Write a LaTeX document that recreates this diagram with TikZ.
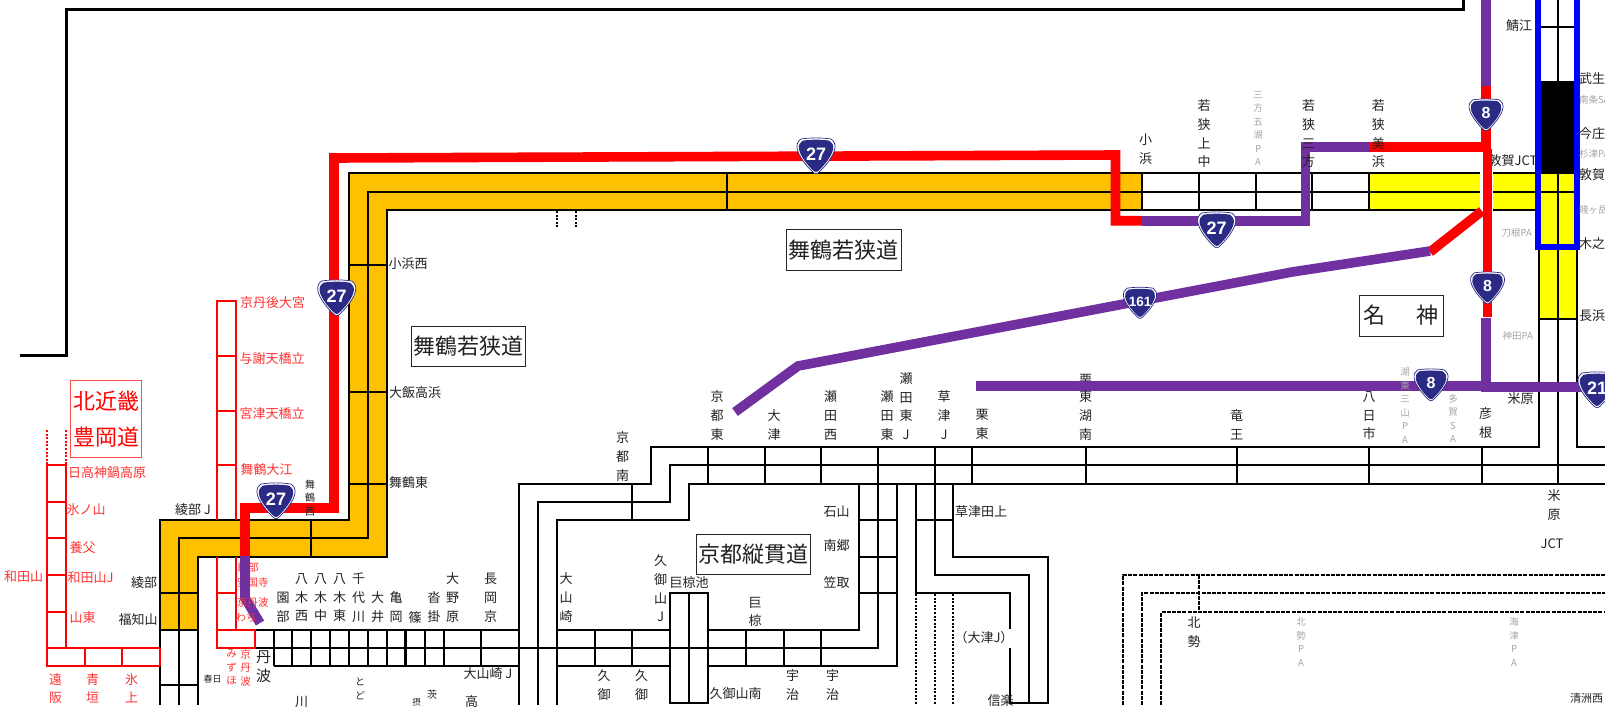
\documentclass[tikz,border=0pt]{standalone}
\usepackage{fontspec}
\setmainfont{Liberation Sans}
\newfontfamily\jp{Noto Sans CJK JP}
\definecolor{orng}{HTML}{FFC000}
\definecolor{yell}{HTML}{FFFF00}
\definecolor{purp}{HTML}{7030A0}
\definecolor{navy}{HTML}{2B2A84}
\definecolor{txt}{HTML}{222222}
\definecolor{gtxt}{HTML}{A6A6A6}
\definecolor{rtxt}{HTML}{FF3333}
\tikzset{
  base/.style={inner sep=0pt,outer sep=0pt,align=center,yshift=-2pt,execute at begin node=\strut,execute at end node=\strut},
  lab/.style={base,text=txt,font=\jp\fontsize{13}{18.7}\selectfont},
  lbig/.style={base,text=txt,font=\jp\fontsize{15}{19.7}\selectfont},
  lsm/.style={base,text=txt,font=\jp\fontsize{10}{13.5}\selectfont},
  gry/.style={base,text=gtxt,font=\jp\fontsize{9.5}{13.5}\selectfont},
  rd/.style={base,text=rtxt,font=\jp\fontsize{13}{18.5}\selectfont},
  rsm/.style={base,text=rtxt,font=\jp\fontsize{10.5}{13.5}\selectfont},
  tbox/.style={draw=black!85,line width=.8pt,inner sep=0pt,outer sep=0pt,font=\jp\fontsize{22}{26}\selectfont,text=txt,align=center},
  blk/.style={draw=black,line width=2.2pt,line join=miter},
  rl/.style={draw=red,line width=2.2pt,line join=miter},
  dsh/.style={draw=black,line width=2.2pt,dash pattern=on 4pt off 1.2pt},
  dtd/.style={draw=black,line width=2.2pt,dash pattern=on 2pt off 1.6pt},
  rroad/.style={draw=red,line width=9.6pt,line join=miter},
  proad/.style={draw=purp,line width=9.6pt,line join=miter},
}
\def\shieldpath{(-15,-17) .. controls (-5,-18.5) and (5,-18.5) .. (15,-17) .. controls (18,-15) and (19.5,-12) .. (19,-8) .. controls (18,0) and (8,12) .. (2,17) .. controls (1,18) and (-1,18) .. (-2,17) .. controls (-8,12) and (-18,0) .. (-19,-8) .. controls (-19.5,-12) and (-18,-15) .. (-15,-17) -- cycle}
\newcommand\shld[6]{% name x y scale fontsize text
  \begin{scope}[shift={(#2,#3)},scale=#4]
    \fill[white,draw=navy,line width=.7pt] \shieldpath;
    \fill[navy,scale=.9] \shieldpath;
    \node[inner sep=0pt,text=white,font=\bfseries\fontsize{#5}{#5}\selectfont] (#1) at (0,-1.8) {#6};
  \end{scope}}
\newcommand\T[4][lab]{\node[#1] (#2) at (#3) {#4};}
\begin{document}
\begin{tikzpicture}[x=1pt,y=-1pt]
\useasboundingbox (0,0) rectangle (1605,710);
\fill[white] (0,0) rectangle (1605,710);
% fills
\fill[orng] (349,173)--(1142,173)--(1142,210)--(387,210)--(387,557)--(198,557)--(198,630)--(160,630)--(160,520)--(349,520)--cycle;
\fill[yell] (1369,173) rectangle (1480,210);
\fill[yell] (1493,173) rectangle (1539,210);
\fill[yell] (1539,173) rectangle (1577,319);
\fill[black] (1541,81) rectangle (1575,173);
% top frame
\draw[black,line width=3pt,line join=miter] (20,355)--(66,355)--(66,9)--(1463,9)--(1463,0);
% main three lines, Maizuru-Wakasa
\draw[blk] (1142,173)--(349,173)--(349,520)--(160,520)--(160,705);
\draw[blk] (1142,191.7)--(368,191.7)--(368,538)--(179,538)--(179,705);
\draw[blk] (1142,210)--(387,210)--(387,557)--(198,557)--(198,705);
\draw[blk] (1142,173)--(1480,173) (1142,191.7)--(1480,191.7) (1142,210)--(1480,210);
\draw[blk] (1493,173)--(1577,173) (1493,191.7)--(1577,191.7) (1493,210)--(1539,210);
\draw[blk] (727,173)--(727,210) (1142,173)--(1142,210) (1199,173)--(1199,210) (1256,173)--(1256,210) (1312,173)--(1312,210) (1369,173)--(1369,210);
\draw[blk] (349,265)--(387,265) (349,392)--(387,392) (349,484)--(387,484) (311,520)--(311,557);
\draw[blk] (160,593)--(198,593) (160,630)--(198,630) (160,685)--(198,685);
\draw[dtd] (557,211)--(557,228) (576,211)--(576,228);
% right trunk
\draw[blk] (1539,0)--(1539,447)--(651,447)--(651,484)--(519,484)--(519,705);
\draw[blk] (1558,0)--(1558,484);
\draw[blk] (1605,447)--(1577,447)--(1577,0);
\draw[blk] (1605,465)--(670,465)--(670,502)--(538,502)--(538,705);
\draw[blk] (1605,484)--(689,484)--(689,520)--(557,520)--(557,705);
\draw[blk] (1539,27)--(1577,27) (1539,319)--(1577,319);
\draw[blk] (632,484)--(632,520) (708,447)--(708,484) (765,447)--(765,484) (821,447)--(821,484) (972,447)--(972,484) (1086,447)--(1086,484) (1237,447)--(1237,484) (1369,447)--(1369,484) (1482,447)--(1482,484);
% Kyoto Jukan band
\draw[blk] (255,630)--(519,630) (557,630)--(670,630) (708,630)--(859,630)--(859,484);
\draw[blk] (255,648)--(878,648)--(878,447);
\draw[blk] (274,666)--(519,666) (557,666)--(670,666) (708,666)--(897,666)--(897,484);
\foreach \x in {274,292,311,330,349,368,387,405.5,425,444,481,595,632,746,784,821} \draw[blk] (\x,630)--(\x,666);
\draw[blk] (670,703)--(670,593)--(708,593)--(708,703)--cycle (689,593)--(689,703);
\draw[blk] (859,520)--(897,520) (859,557)--(897,557) (859,593)--(897,593);
% Keiji / Otsu lines
\draw[blk] (935,447)--(935,575)--(1029,575)--(1029,703);
\draw[blk] (953,484)--(953,557)--(1048,557)--(1048,703)--(1010,703)--(1010,648);
\draw[blk] (916,484)--(916,593)--(1010,593)--(1010,629);
\draw[blk] (916,520)--(953,520);
\draw[dtd] (916,594)--(916,705) (935,594)--(935,705) (953,594)--(953,705);
% dashed
\draw[dsh] (1123,705)--(1123,575)--(1605,575);
\draw[dsh] (1142,705)--(1142,593)--(1605,593);
\draw[dsh] (1161,705)--(1161,612)--(1605,612);
\draw[dsh] (1199,575)--(1199,612);
% red network
\draw[rl] (217,520)--(217,301)--(236,301)--(236,520);
\draw[rl] (217,356)--(236,356) (217,411)--(236,411) (217,465)--(236,465);
\draw[rl] (217,557)--(217,648)--(255,648)--(255,630)--(217,630) (236,557)--(236,630) (217,593)--(236,593);
\draw[rl] (160,648)--(47,648) (160,666)--(47,666)--(47,465)--(66,465)--(66,648);
\draw[rl] (160,648)--(160,666);
\draw[rl] (47,502)--(66,502) (47,538)--(66,538) (47,575)--(66,575) (47,612)--(66,612) (85,648)--(85,666) (122,648)--(122,666);
\draw[draw=red,line width=2.2pt,dash pattern=on 2pt off 1.6pt] (47,430)--(47,464) (66,430)--(66,464);
% labels under the roads
\T[lab]{kk}{1085.7,379}{栗}
\T[lab]{tsuruJ}{1513,160}{敦賀JCT}
\T[lab]{shig}{1000.7,700}{信楽}
\T[rsm]{ayr}{248,567}{綾部}
\T[rsm]{ank}{252.8,582}{安国寺}
% roads
\fill[white] (1480,174) rectangle (1493,209);
\draw[rroad] (245,556)--(245,508)--(334,508)--(334,158)--(1115.5,155)--(1115.5,220.7)--(1142,220.7);
\draw[proad] (1142,220.7)--(1305.5,220.7)--(1305.5,147)--(1369,147);
\draw[rroad] (1369,147)--(1486,147);
\draw[proad] (1486,0)--(1486,86);
\draw[rroad] (1486,86)--(1486,150);
\draw[rroad] (1487.5,149)--(1487.5,317);
\draw[rroad] (1482,211)--(1430,252);
\draw[proad] (1430,251)--(1292,272)--(798,366)--(735,412);
\draw[proad] (1486,318)--(1486,386);
\draw[proad] (976,386)--(1486,386);
\draw[proad] (1481,387)--(1590,387);
\draw[proad] (245,556)--(245,598)--(260,623);
% blue frame
\draw[blue,line width=5.2pt,line join=miter] (1538,0)--(1538,247)--(1577,247)--(1577,0);
% shields
\shld{s1}{816}{156}{1}{18}{27}
\shld{s2}{336.7}{298}{1}{18}{27}
\shld{s3}{276}{501}{1}{18}{27}
\shld{s4}{1216.7}{230}{1}{18}{27}
\shld{s5}{1486}{115}{.89}{16}{8}
\shld{s6}{1487.5}{288}{.89}{16}{8}
\shld{s7}{1431}{385}{.89}{16}{8}
\shld{s8}{1140}{303}{.87}{13.5}{161}
\shld{s9}{1597}{390}{1}{18}{21}
% boxes
\node[tbox,minimum width=114pt,minimum height=40.5pt] (b1) at (468.7,346.4) {舞鶴若狭道};
\node[tbox,minimum width=115pt,minimum height=41pt] (b2) at (843.5,250) {舞鶴若狭道};
\node[tbox,minimum width=114pt,minimum height=40pt] (b3) at (753,554) {京都縦貫道};
\node[tbox,minimum width=84pt,minimum height=41pt] (b4) at (1401,315.5) {名\hspace{31pt}神};
\node[draw=red!70,line width=1pt,minimum width=70.7pt,minimum height=77pt,inner sep=0pt,text=red,font=\jp\fontsize{22}{36.5}\selectfont,align=center] (b5) at (106.3,419.2) {北近畿\\豊岡道};
% black labels
\T{a1}{193,509}{綾部 J}
\T[lsm]{a2}{310,497.5}{舞\\鶴\\西}
\T{a3}{144,582}{綾部}
\T{a4}{138,619}{福知山}
\T[lbig]{a5}{263.7,667}{丹\\波}
\T[base,text=txt,font=\jp\fontsize{9}{12}\selectfont]{a6}{212.7,678}{春日}
\T{a7}{283,607.5}{園\\部}
\T{a8}{301.7,598}{八\\木\\西}
\T{a9}{320.7,598}{八\\木\\中}
\T{a10}{339.7,598}{八\\木\\東}
\T{a11}{358.7,598}{千\\代\\川}
\T{a12}{377.7,607.5}{大\\井}
\T{a13}{396,607.5}{亀\\岡}
\T{a14}{415,617}{篠}
\T{a15}{434,607.5}{沓\\掛}
\T{a16}{452.7,598}{大\\野\\原}
\T{a17}{490.7,598}{長\\岡\\京}
\T{a18}{301.7,700.7}{川}
\T[lsm]{a19}{360,688.5}{と\\ど}
\T[lsm]{a20}{432,694}{茨}
\T[base,text=txt,font=\jp\fontsize{8.5}{12}\selectfont]{a21}{416.7,701}{摂}
\T{a22}{471.7,700.7}{高}
\T{a23}{488,673}{大山崎 J}
\T{a24}{566,598}{大\\山\\崎}
\T{a25}{660.7,589}{久\\御\\山\\J}
\T{a26}{689,582}{巨椋池}
\T{a27}{755,612.3}{巨\\椋}
\T{a28}{604,685}{久\\御}
\T{a29}{641.7,685}{久\\御}
\T{a30}{735.7,692.7}{久御山南}
\T{a31}{792.7,685}{宇\\治}
\T{a32}{832.7,685}{宇\\治}
\T{a33}{622.7,457}{京\\都\\南}
\T{a34}{717,416}{京\\都\\東}
\T{a35}{774,425}{大\\津}
\T{a36}{830.7,416}{瀬\\田\\西}
\T{a37}{887,416}{瀬\\田\\東}
\T{a38}{906,407}{瀬\\田\\東\\J}
\T{a39}{944,416}{草\\津\\J}
\T{a40}{982,425}{栗\\東}
\T{a41}{1085.7,416}{東\\湖\\南}
\T{a42}{1236.7,425}{竜\\王}
\T{a43}{1369,416}{八\\日\\市}
\T{a44}{1485.7,423}{彦\\根}
\T{a45}{1520.7,398}{米原}
\T{a46}{1554,505.5}{米\\原}
\T{a47}{1552,543}{JCT}
\T[lab,text=txt]{a48}{1194,632.5}{北\\勢}
\T{a49}{981,511}{草津田上}
\T{a50}{836.7,511}{石山}
\T{a51}{836.7,545}{南郷}
\T{a52}{836.7,582}{笠取}
\T{a53}{984,637}{（大津J）}
\T{a54}{408,263}{小浜西}
\T{a55}{415,391.7}{大飯高浜}
\T{a56}{408.5,482}{舞鶴東}
\T{a57}{1519,24.3}{鯖江}
\T[lab,anchor=west]{a58}{1579,78}{武生}
\T[lab,anchor=west]{a59}{1579,132.7}{今庄}
\T[lab,anchor=west]{a60}{1579,174}{敦賀}
\T[lab,anchor=west]{a61}{1579,242.7}{木之本}
\T[lab,anchor=west]{a62}{1579,315}{長浜}
\T{a63}{1145.7,149.3}{小\\浜}
\T{a64}{1204,134}{若\\狭\\上\\中}
\T{a65}{1308.7,134}{若\\狭\\三\\方}
\T{a66}{1378.3,134}{若\\狭\\美\\浜}
\T[base,text=txt,font=\jp\fontsize{11}{13}\selectfont]{a67}{1586.7,697.7}{清洲西}
% grey labels
\T[gry]{g1}{1405,405.5}{湖\\東\\三\\山\\P\\A}
\T[gry]{g2}{1453,418.7}{多\\賀\\S\\A}
\T[gry]{g3}{1301,642}{北\\勢\\P\\A}
\T[gry]{g4}{1514,642}{海\\津\\P\\A}
\T[gry,anchor=west]{g5}{1579,99}{南条SA}
\T[gry,anchor=west]{g6}{1579,153}{杉津PA}
\T[gry,anchor=west]{g7}{1579,209}{賤ヶ岳SA}
\T[gry]{g8}{1516.7,231.3}{刀根PA}
\T[gry]{g9}{1517.7,335}{神田PA}
\T[gry]{g10}{1258,128.5}{三\\方\\五\\湖\\P\\A}
% red labels
\T[rd]{r1}{107,472}{日高神鍋高原}
\T[rd]{r2}{86,509}{氷ノ山}
\T[rd]{r3}{82.5,547}{養父}
\T[rd]{r4}{90.7,577}{和田山J}
\T[rd]{r5}{23.7,575.7}{和田山}
\T[rd]{r6}{82.5,617}{山東}
\T[rd]{r7}{55.7,689}{遠\\阪}
\T[rd]{r8}{92.7,689}{青\\垣}
\T[rd]{r9}{131.7,689}{氷\\上}
\T[rd]{r10}{272.7,302}{京丹後大宮}
\T[rd]{r11}{272,357.7}{与謝天橋立}
\T[rd]{r12}{272,412.7}{宮津天橋立}
\T[rd]{r13}{266.7,469}{舞鶴大江}
\T[rsm]{r14}{252.8,602}{京丹波}
\T[rsm]{r15}{246,617}{わち}
\T[rsm]{r16}{231.7,667.5}{み\\ず\\ほ}
\T[rsm]{r17}{245.7,667.5}{京\\丹\\波}
\end{tikzpicture}
\end{document}
